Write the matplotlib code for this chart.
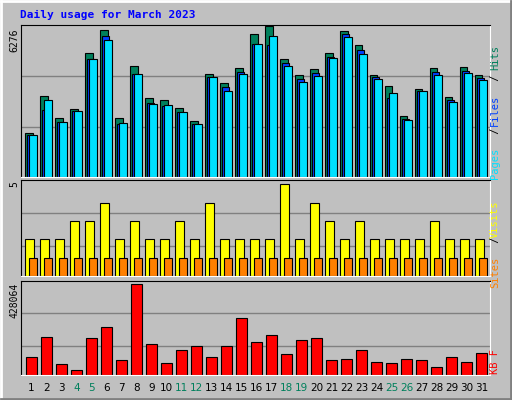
import numpy as np
import matplotlib
matplotlib.use('Agg')
import matplotlib.pyplot as plt

days = list(range(1, 32))
weekend = [4, 5, 11, 12, 18, 19, 25, 26]

hits = [1843, 3380, 2466, 2840, 5126, 6082, 2466, 4586, 3297, 3214, 2882, 2341, 4253, 3879, 4503, 5916,
        6276, 4877, 4212, 4461, 5126, 6040, 5459, 4212, 3755, 2549, 3671, 4503, 3339, 4544, 4212]
files = [1760, 2771, 2300, 2757, 4877, 5833, 2217, 4253, 3090, 2965, 2716, 2217, 4129, 3713, 4337, 5500,
         5459, 4711, 4045, 4295, 4960, 5916, 5251, 4129, 3297, 2425, 3547, 4337, 3214, 4378, 4087]
pages = [1760, 3214, 2300, 2757, 4877, 5667, 2258, 4253, 3048, 3006, 2716, 2217, 4129, 3588, 4253, 5500,
         5833, 4586, 3921, 4170, 4918, 5791, 5085, 4045, 3505, 2383, 3547, 4212, 3131, 4295, 4004]
visits = [2, 2, 2, 3, 3, 4, 2, 3, 2, 2, 3, 2, 4, 2, 2, 2, 2, 5, 2, 4, 3, 2, 3, 2, 2, 2, 2, 3, 2, 2, 2]
sites = [1] * 31
kbytes = [84364, 178100, 51555, 23434, 173413, 224970, 70303, 428064, 145292, 56242, 117171, 135918,
          84364, 135918, 267150, 154666, 187473, 98424, 164039, 173413, 70303, 74990, 117171, 60929,
          56242, 74990, 70303, 37495, 84364, 60929, 103110]

BG = '#C0C0C0'
MONO = 'DejaVu Sans Mono'
x = np.array(days)

fig = plt.figure(figsize=(5.12, 4.0), dpi=100, facecolor=BG)


def panel(rect, ytop, grid):
    ax = fig.add_axes(rect, facecolor=BG)
    ax.set_xlim(0.3, 31.57)
    ax.set_ylim(0, ytop)
    for g in grid:
        ax.axhline(g, color='#808080', lw=1, zorder=0)
    ax.set_xticks([])
    ax.set_yticks([])
    for s in ['top', 'left']:
        ax.spines[s].set_color('black')
    for s in ['bottom', 'right']:
        ax.spines[s].set_color('white')
    return ax


# pages / files / hits
ax1 = panel([0.041, 0.5575, 0.916, 0.38], 6305, [2092, 4184])
kw = dict(edgecolor='black', linewidth=0.8)
ax1.bar(x - 0.18, hits, width=0.5, color='#00805C', **kw)
ax1.bar(x - 0.05, files, width=0.5, color='#0040FF', **kw)
ax1.bar(x + 0.09, pages, width=0.5, color='#00E0FF', **kw)

# sites / visits
ax2 = panel([0.041, 0.31, 0.916, 0.239], 5.22, [1.62, 3.42])
ax2.bar(x - 0.13, visits, width=0.56, color='#FFFF00', **kw)
ax2.bar(x + 0.1, sites, width=0.49, color='#FF8000', **kw)

# kbytes
ax3 = panel([0.041, 0.0618, 0.916, 0.2365], 443500, [137480, 292146])
ax3.bar(x, kbytes, width=0.69, color='#FF0000', **kw)

# day labels
for d in days:
    col = '#00805C' if d in weekend else 'black'
    fig.text((31.5 + 15 * (d - 1)) / 512, 1 - 388 / 400, str(d), ha='center', va='center',
             fontsize=7.5, color=col, family='DejaVu Sans')

fig.text(20 / 512, 1 - 15 / 400, 'Daily usage for March 2023', color='#0000FF',
         fontsize=8, fontweight='bold', family=MONO, va='center')

# max values on the left
for yy, lbl in [(40, '6276'), (184, '5'), (300, '428064')]:
    fig.text(14 / 512, 1 - yy / 400, lbl, rotation=90, ha='center', va='center',
             fontsize=7, family=MONO, color='black')


# legends on the right, built piece by piece upwards
def right_label(parts, ybottom, fs=7.5):
    step = fs * 0.602 * 100 / 72 + 0.3
    y = ybottom
    for txt, col in parts:
        fig.text(500 / 512, 1 - y / 400, txt, rotation=90, ha='center', va='bottom',
                 fontsize=fs, family=MONO, color=col, rotation_mode='anchor')
        y -= len(txt) * step


right_label([('Pages', '#00E0FF'), (' / ', 'black'), ('Files', '#0040FF'), (' / ', 'black'),
             ('Hits', '#00805C')], 163)
right_label([('Sites', '#FF8000'), (' / ', 'black'), ('Visits', '#FFFF00')], 272)
right_label([('KB F', '#FF0000')], 362)

# bevelled frame
fig.add_artist(plt.Line2D([0.002, 0.998], [0.998, 0.998], color='white', lw=2))
fig.add_artist(plt.Line2D([0.002, 0.002], [0.002, 0.998], color='white', lw=2))
fig.add_artist(plt.Line2D([0.002, 0.998], [0.002, 0.002], color='#808080', lw=2))
fig.add_artist(plt.Line2D([0.998, 0.998], [0.002, 0.998], color='#808080', lw=2))

fig.savefig('out.png', dpi=100, facecolor=BG)
